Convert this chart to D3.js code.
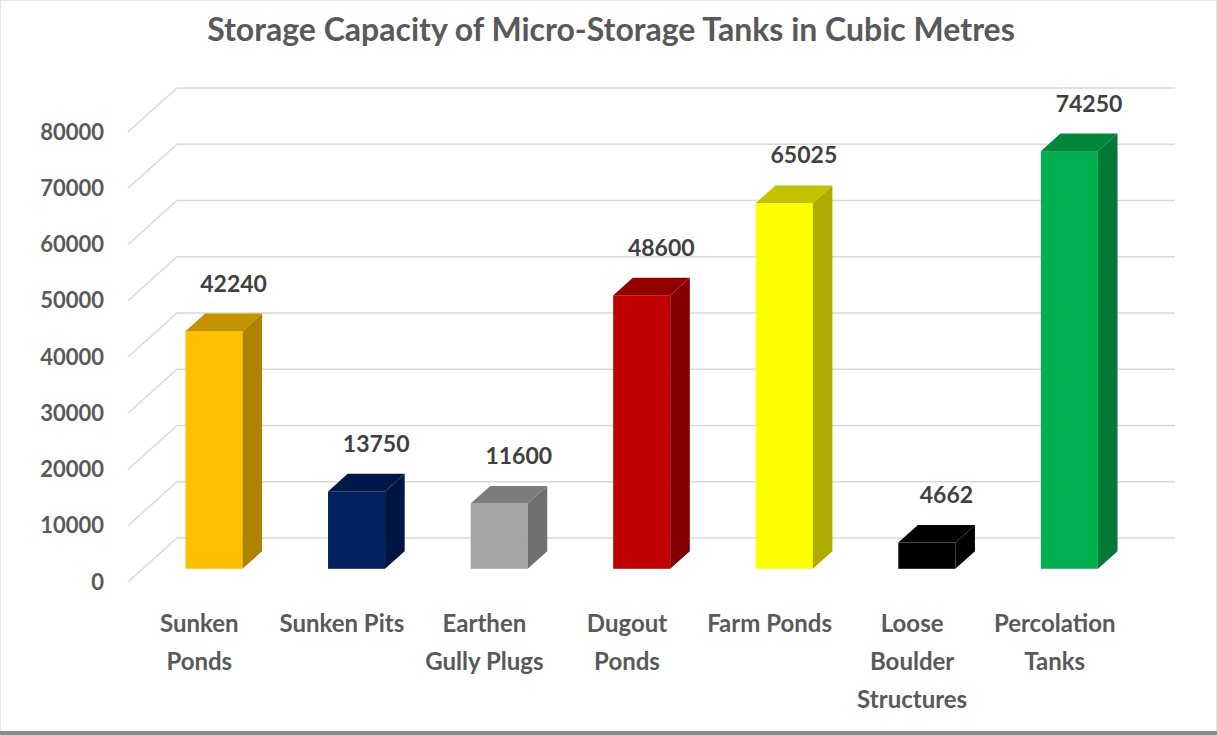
<!DOCTYPE html>
<html>
<head>
<meta charset="utf-8">
<script src="https://cdn.jsdelivr.net/npm/d3@7"></script>
<style>
  body { margin: 0; background: #fff; }
  svg { display: block; font-family: Lato, "Open Sans", sans-serif; }
</style>
</head>
<body>
<svg id="chart" width="1217" height="735"></svg>
<script>
// chart data
var categories = [
  ["Sunken", "Ponds"],
  ["Sunken Pits"],
  ["Earthen", "Gully Plugs"],
  ["Dugout", "Ponds"],
  ["Farm Ponds"],
  ["Loose", "Boulder", "Structures"],
  ["Percolation", "Tanks"]
];
var capacity = [42240, 13750, 11600, 48600, 65025, 4662, 74250];
var barColors = ["#FFC000", "#002060", "#A5A5A5", "#C00000", "#FFFF00", "#000000", "#00B050"];
var yTicks = [0, 10000, 20000, 30000, 40000, 50000, 60000, 70000, 80000];

var svg = d3.select("#chart");

// frame of the picture
svg.append("rect").attr("x", 0.5).attr("y", 0.5).attr("width", 1216).attr("height", 733)
  .attr("fill", "none").attr("stroke", "#e6e6e6");
svg.append("rect").attr("x", 0).attr("y", 731).attr("width", 1217).attr("height", 4)
  .attr("fill", "#8c8c8c");

svg.append("text")
  .attr("x", 611).attr("y", 41)
  .attr("text-anchor", "middle")
  .attr("font-size", "32px").attr("font-weight", "bold")
  .attr("fill", "#595959")
  .text("Storage Capacity of Micro-Storage Tanks in Cubic Metres");

// 3d projection: front plane and depth offset
var depthX = 49, depthY = -44;
var x = d3.scaleBand().domain(d3.range(capacity.length)).range([128, 1126]).paddingInner(0).paddingOuter(0);
var y = d3.scaleLinear().domain([0, 80000]).range([582, 132]);

// gridlines: slanted on the side wall, flat on the back wall
var grid = svg.append("g");
yTicks.forEach(function(t) {
  var yf = y(t);
  grid.append("path")
    .attr("d", "M128," + yf + "L" + (128 + depthX) + "," + (yf + depthY) + "L" + (1126 + depthX) + "," + (yf + depthY))
    .attr("fill", "none").attr("stroke", "#d9d9d9").attr("stroke-width", 1.5);
  svg.append("text")
    .attr("x", 104).attr("y", yf).attr("dy", "0.35em")
    .attr("text-anchor", "end")
    .attr("font-size", "22px").attr("font-weight", "bold")
    .attr("fill", "#595959")
    .text(t);
});

// bars sit in the middle of the depth (0.3 .. 0.7)
var d0 = 0.3, d1 = 0.7;
var bw = x.bandwidth() * 0.4;
var bdx = (d1 - d0) * depthX, bdy = (d1 - d0) * depthY;

var bars = svg.selectAll(".bar").data(capacity).enter().append("g").attr("class", "bar");
bars.each(function(v, i) {
  var g = d3.select(this);
  var x0 = x(i) + (x.bandwidth() - bw) / 2 + d0 * depthX;
  var x1 = x0 + bw;
  var yb = y(0) + d0 * depthY;
  var yt = y(v) + d0 * depthY;
  var c = d3.color(barColors[i]);
  var side = barColors[i] == "#000000" ? "#000" : d3.rgb(c.r * 0.68, c.g * 0.68, c.b * 0.68);
  var top = barColors[i] == "#000000" ? "#000" : d3.rgb(c.r * 0.76, c.g * 0.76, c.b * 0.76);
  g.append("rect").attr("x", x0).attr("y", yt).attr("width", bw).attr("height", yb - yt)
    .attr("fill", barColors[i]);
  g.append("path")
    .attr("d", "M" + x1 + "," + yb + "L" + (x1 + bdx) + "," + (yb + bdy) + "L" + (x1 + bdx) + "," + (yt + bdy) + "L" + x1 + "," + yt + "Z")
    .attr("fill", side);
  g.append("path")
    .attr("d", "M" + x0 + "," + yt + "L" + (x0 + bdx) + "," + (yt + bdy) + "L" + (x1 + bdx) + "," + (yt + bdy) + "L" + x1 + "," + yt + "Z")
    .attr("fill", top);
  g.append("text")
    .attr("x", (x0 + x1) / 2 + bdx).attr("y", yt + bdy - 22)
    .attr("text-anchor", "middle")
    .attr("font-size", "23px").attr("font-weight", "bold")
    .attr("fill", "#404040")
    .text(v);
});

// category labels
categories.forEach(function(lines, i) {
  var t = svg.append("text")
    .attr("text-anchor", "middle")
    .attr("font-size", "24px").attr("font-weight", "bold")
    .attr("fill", "#595959");
  lines.forEach(function(l, k) {
    t.append("tspan").attr("x", x(i) + x.bandwidth() / 2).attr("y", 632 + k * 38).text(l);
  });
});
</script>
</body>
</html>
